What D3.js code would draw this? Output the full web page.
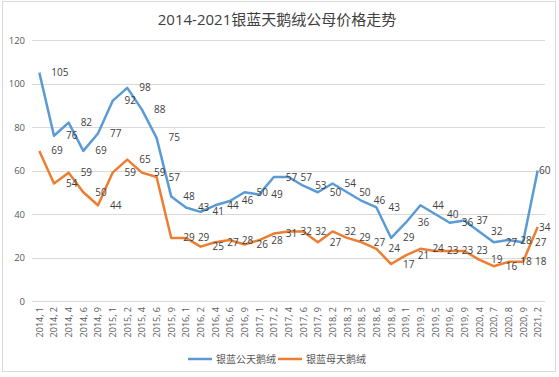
<!DOCTYPE html>
<html>
<head>
<meta charset="utf-8">
<script src="https://cdn.jsdelivr.net/npm/d3@7"></script>
<style>
  body { margin: 0; background: #fff; }
  svg { display: block; font-family: "Open Sans", "Noto Sans CJK SC", sans-serif; }
</style>
</head>
<body>
<svg id="chart"></svg>
<script>
const categories = ['2014, 1', '2014, 2', '2014, 4', '2014, 6', '2014, 9',
  '2015, 1', '2015, 2', '2015, 4', '2015, 6', '2015, 9',
  '2016, 1', '2016, 2', '2016, 4', '2016, 6', '2016, 9',
  '2017, 1', '2017, 2', '2017, 4', '2017, 6', '2017, 9',
  '2018, 2', '2018, 3', '2018, 5', '2018, 6', '2018, 9',
  '2019, 1', '2019, 3', '2019, 5', '2019, 6', '2019, 9',
  '2020, 4', '2020, 7', '2020, 8', '2020, 9', '2021, 2'];
const male = [105, 76, 82, 69, 77, 92, 98, 88, 75, 48, 43, 41, 44, 46, 50, 49, 57, 57, 53, 50,
  54, 50, 46, 43, 29, 36, 44, 40, 36, 37, 32, 27, 28, 27, 60];
const female = [69, 54, 59, 50, 44, 59, 65, 59, 57, 29, 29, 25, 27, 28, 26, 28, 31, 32, 32, 27,
  32, 29, 27, 24, 17, 21, 24, 23, 23, 23, 19, 16, 18, 18, 34];
const yTicks = [0, 20, 40, 60, 80, 100, 120];
const seriesNames = ['银蓝公天鹅绒', '银蓝母天鹅绒'];

const width = 559;
const height = 377;

const svg = d3.select('#chart')
  .attr('width', width)
  .attr('height', height);

svg.append('rect')
  .attr('width', width).attr('height', height)
  .attr('fill', '#fff');

// chart frame
svg.append('rect')
  .attr('x', 2.5).attr('y', 1.5)
  .attr('width', 553).attr('height', 370)
  .attr('fill', 'none')
  .attr('stroke', '#d9d9d9');

svg.append('text')
  .attr('x', 277)
  .attr('y', 25)
  .attr('text-anchor', 'middle')
  .style('font-size', '15px')
  .attr('fill', '#404040')
  .text('2014-2021银蓝天鹅绒公母价格走势');

const x = d3.scaleBand()
  .domain(categories)
  .range([32, 545]);

const y = d3.scaleLinear()
  .domain([0, 120])
  .range([301, 40]);

const cx = (d) => x(d) + x.bandwidth() / 2;

// gridlines
svg.append('g')
  .selectAll('line')
  .data(yTicks)
  .enter()
  .append('line')
  .attr('x1', 32).attr('x2', 545)
  .attr('y1', (d) => Math.round(y(d)) + 0.5)
  .attr('y2', (d) => Math.round(y(d)) + 0.5)
  .attr('stroke', '#d9d9d9');

// y axis labels
svg.append('g')
  .selectAll('text')
  .data(yTicks)
  .enter()
  .append('text')
  .attr('x', 25)
  .attr('y', (d) => y(d) + 3.5)
  .attr('text-anchor', 'end')
  .style('font-size', '9.5px')
  .attr('fill', '#595959')
  .text((d) => d);

// x axis labels
svg.append('g')
  .selectAll('text')
  .data(categories)
  .enter()
  .append('text')
  .attr('transform', (d) => `translate(${cx(d) + 3.5}, 307) rotate(-90)`)
  .attr('text-anchor', 'end')
  .style('font-size', '9px')
  .attr('fill', '#595959')
  .text((d) => d);

const colors = ['#5b9bd5', '#ed7d31'];
const series = [male, female];

const line = d3.line()
  .x((d, i) => cx(categories[i]))
  .y((d) => y(d));

series.forEach((values, s) => {
  svg.append('path')
    .datum(values)
    .attr('d', line)
    .attr('fill', 'none')
    .attr('stroke', colors[s])
    .attr('stroke-width', 2.5)
    .attr('stroke-linejoin', 'round');
});

series.forEach((values) => {
  svg.append('g')
    .selectAll('text')
    .data(values)
    .enter()
    .append('text')
    .attr('x', (d, i) => Math.min(cx(categories[i]) + 12, 539))
    .attr('y', (d) => y(d) + 3.5)
    .style('font-size', '10px')
    .attr('fill', '#404040')
    .text((d) => d);
});

// legend
const legend = svg.append('g');
const legendX = [188, 278];
seriesNames.forEach((name, s) => {
  legend.append('line')
    .attr('x1', legendX[s]).attr('x2', legendX[s] + 24)
    .attr('y1', 359).attr('y2', 359)
    .attr('stroke', colors[s])
    .attr('stroke-width', 2.5);
  legend.append('text')
    .attr('x', legendX[s] + 28)
    .attr('y', 362.5)
    .style('font-size', '10px')
    .attr('fill', '#595959')
    .text(name);
});
</script>
</body>
</html>
